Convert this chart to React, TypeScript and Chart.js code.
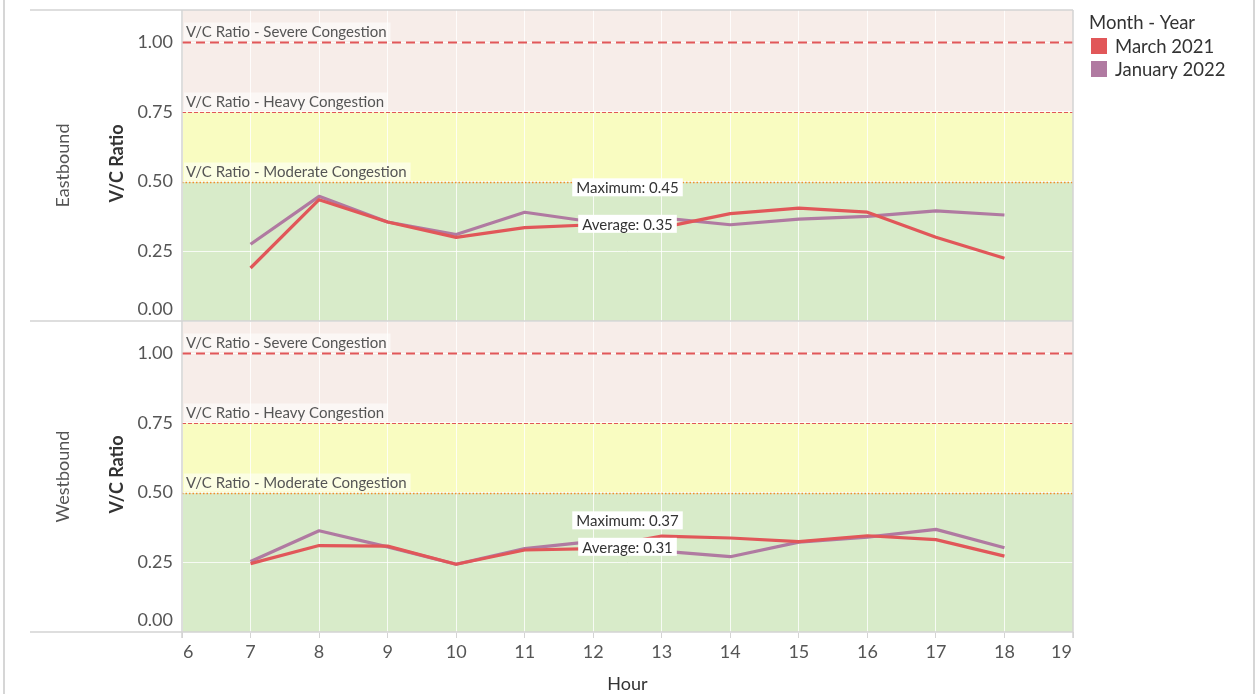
import React, { useEffect, useRef } from 'react';
import { Chart, registerables } from 'chart.js';

Chart.register(...registerables);

// ---------- data ----------
const hours = [7, 8, 9, 10, 11, 12, 13, 14, 15, 16, 17, 18];
const seriesNames = ['March 2021', 'January 2022'];
const seriesColors = ['#e15759', '#b07aa1'];
const directions = ['Eastbound', 'Westbound'];

const eastMarch2021 = [0.19, 0.435, 0.355, 0.3, 0.335, 0.345, 0.335, 0.385, 0.405, 0.39, 0.3, 0.225];
const eastJanuary2022 = [0.275, 0.447, 0.355, 0.31, 0.39, 0.355, 0.37, 0.345, 0.365, 0.375, 0.395, 0.38];
const westMarch2021 = [0.245, 0.31, 0.308, 0.243, 0.294, 0.299, 0.344, 0.337, 0.324, 0.345, 0.331, 0.272];
const westJanuary2022 = [0.253, 0.363, 0.305, 0.243, 0.299, 0.325, 0.29, 0.27, 0.322, 0.34, 0.368, 0.302];

const yTicks = [0, 0.25, 0.5, 0.75, 1.0];
const xTicks = [6, 7, 8, 9, 10, 11, 12, 13, 14, 15, 16, 17, 18, 19];

const refValues = [1.0, 0.75, 0.5];
const refNames = ['V/C Ratio - Severe Congestion', 'V/C Ratio - Heavy Congestion', 'V/C Ratio - Moderate Congestion'];
const bandEdges = [0, 0.5, 0.75];
const bandColors = ['#d8ebc9', '#f9fcc1', '#f7ede9'];

const FONT = 'Lato, "Open Sans", sans-serif';

const decorPlugin = {
  id: 'decor',
  beforeDraw(chart: any) {
    const ctx = chart.ctx;
    const { left, right } = chart.chartArea;
    ctx.save();
    ctx.fillStyle = '#ffffff';
    ctx.fillRect(0, 0, chart.width, chart.height);
    ['yE', 'yW'].forEach((id) => {
      const s = chart.scales[id];
      for (let i = 0; i < bandEdges.length; i++) {
        const lo = bandEdges[i];
        const hi = i + 1 < bandEdges.length ? bandEdges[i + 1] : s.max;
        const yTop = s.getPixelForValue(hi);
        const yBot = s.getPixelForValue(lo);
        ctx.fillStyle = bandColors[i];
        ctx.fillRect(left, yTop, right - left, yBot - yTop);
      }
    });
    ctx.restore();
  },
  beforeDatasetsDraw(chart: any) {
    const ctx = chart.ctx;
    const { left, right } = chart.chartArea;
    ctx.save();
    ['yE', 'yW'].forEach((id) => {
      const s = chart.scales[id];
      refValues.forEach((v, i) => {
        const y = Math.round(s.getPixelForValue(v)) + 0.5;
        ctx.beginPath();
        if (i === 0) {
          ctx.strokeStyle = '#e15759';
          ctx.lineWidth = 2;
          ctx.setLineDash([9, 5]);
        } else if (i === 1) {
          ctx.strokeStyle = '#e15759';
          ctx.lineWidth = 1;
          ctx.setLineDash([4, 2]);
        } else {
          ctx.strokeStyle = '#f28e2b';
          ctx.lineWidth = 1.5;
          ctx.setLineDash([1.5, 2]);
        }
        ctx.moveTo(left, y);
        ctx.lineTo(right, y);
        ctx.stroke();
        ctx.setLineDash([]);
        ctx.font = `15px ${FONT}`;
        const w = ctx.measureText(refNames[i]).width;
        const bh = 18;
        const by = y - 2 - bh;
        ctx.fillStyle = 'rgba(255,255,255,0.55)';
        ctx.fillRect(left + 2, by, w + 6, bh);
        ctx.fillStyle = '#555555';
        ctx.textBaseline = 'middle';
        ctx.textAlign = 'left';
        ctx.fillText(refNames[i], left + 4, by + bh / 2 + 1);
      });
    });
    ctx.restore();
  },
  afterDatasetsDraw(chart: any) {
    const ctx = chart.ctx;
    const { left, right, top, bottom } = chart.chartArea;
    const xs = chart.scales.x;
    ctx.save();

    // reference labels: maximum and average
    const panels = [
      { id: 'yE', vals: [...eastMarch2021, ...eastJanuary2022] },
      { id: 'yW', vals: [...westMarch2021, ...westJanuary2022] },
    ];
    const cx = xs.getPixelForValue((xs.min + xs.max) / 2);
    panels.forEach((p) => {
      const s = chart.scales[p.id];
      const mx = Math.max(...p.vals);
      const avg = p.vals.reduce((a, b) => a + b, 0) / p.vals.length;
      ctx.font = `15px ${FONT}`;
      ctx.textAlign = 'center';
      ctx.textBaseline = 'middle';
      const t1 = `Maximum: ${mx.toFixed(2)}`;
      const w1 = ctx.measureText(t1).width + 8;
      const y1 = s.getPixelForValue(mx);
      ctx.fillStyle = '#ffffff';
      ctx.fillRect(cx - w1 / 2, y1 - 18, w1, 18);
      ctx.fillStyle = '#333333';
      ctx.fillText(t1, cx, y1 - 9 + 1);
      const t2 = `Average: ${avg.toFixed(2)}`;
      const w2 = ctx.measureText(t2).width + 8;
      const y2 = s.getPixelForValue(avg);
      ctx.fillStyle = '#ffffff';
      ctx.fillRect(cx - w2 / 2, y2 - 9, w2, 18);
      ctx.fillStyle = '#333333';
      ctx.fillText(t2, cx, y2 + 1);
    });

    // frame lines
    ctx.strokeStyle = '#d6d6d6';
    ctx.lineWidth = 2;
    ctx.beginPath();
    ctx.moveTo(4, 0); ctx.lineTo(4, chart.height);
    ctx.moveTo(1254, 0); ctx.lineTo(1254, chart.height);
    ctx.stroke();
    const yE = chart.scales.yE;
    const yW = chart.scales.yW;
    ctx.lineWidth = 1.5;
    ctx.strokeStyle = '#d4d4d4';
    ctx.beginPath();
    [top, yE.bottom, bottom].forEach((y) => {
      ctx.moveTo(30, y);
      ctx.lineTo(right, y);
    });
    ctx.moveTo(left, top); ctx.lineTo(left, bottom + 6);
    ctx.moveTo(right, top); ctx.lineTo(right, bottom + 6);
    ctx.stroke();

    // y tick labels (kept inside their pane)
    ctx.font = `18px ${FONT}`;
    ctx.fillStyle = '#555555';
    ctx.textAlign = 'right';
    ctx.textBaseline = 'middle';
    [yE, yW].forEach((s) => {
      yTicks.forEach((v) => {
        let y = s.getPixelForValue(v);
        y = Math.min(Math.max(y, s.top + 10), s.bottom - 12);
        ctx.fillText(v.toFixed(2), left - 9, y);
      });
    });

    // x tick labels (kept inside the plot width)
    ctx.textAlign = 'center';
    xTicks.forEach((v) => {
      const label = String(v);
      const hw = ctx.measureText(label).width / 2;
      let x = xs.getPixelForValue(v);
      x = Math.min(Math.max(x, left + hw + 1), right - hw - 1);
      ctx.fillText(label, x, bottom + 20);
    });

    // axis titles
    ctx.fillStyle = '#333333';
    ctx.font = `18px ${FONT}`;
    ctx.fillText('Hour', (left + right) / 2, 684);

    [yE, yW].forEach((s, i) => {
      const cy = (s.top + s.bottom) / 2;
      ctx.save();
      ctx.translate(63, cy);
      ctx.rotate(-Math.PI / 2);
      ctx.font = `18px ${FONT}`;
      ctx.fillStyle = '#555555';
      ctx.fillText(directions[i], 0, 0);
      ctx.restore();
      ctx.save();
      ctx.translate(117, cy - 2);
      ctx.rotate(-Math.PI / 2);
      ctx.font = `bold 18px ${FONT}`;
      ctx.fillStyle = '#333333';
      ctx.fillText('V/C Ratio', 0, 0);
      ctx.restore();
    });

    // legend
    ctx.textAlign = 'left';
    ctx.font = `18.5px ${FONT}`;
    ctx.fillStyle = '#333333';
    ctx.fillText('Month - Year', 1089, 23);
    seriesNames.forEach((n, i) => {
      const y = 46 + i * 23;
      ctx.fillStyle = seriesColors[i];
      ctx.fillRect(1091, y - 8, 16, 16);
      ctx.fillStyle = '#333333';
      ctx.fillText(n, 1115, y + 1);
    });

    ctx.restore();
  },
};

function makeDataset(label: string, values: number[], color: string, axis: string) {
  return {
    label,
    data: hours.map((h, i) => ({ x: h, y: values[i] })),
    yAxisID: axis,
    borderColor: color,
    backgroundColor: color,
    borderWidth: 3.2,
    pointRadius: 0,
    pointHoverRadius: 0,
    tension: 0,
    borderJoinStyle: 'round',
    fill: false,
  };
}

export default function App() {
  const ref = useRef<HTMLCanvasElement | null>(null);
  useEffect(() => {
    if (!ref.current) return;
    const yCommon = (weight: number) => ({
      type: 'linear',
      position: 'left',
      stack: 'dir',
      stackWeight: 1,
      weight,
      min: 0,
      max: 1.115,
      afterBuildTicks: (s: any) => {
        s.ticks = yTicks.map((v) => ({ value: v }));
      },
      ticks: { display: false },
      grid: { color: 'rgba(255,255,255,0.8)', drawTicks: false, lineWidth: 1 },
      border: { display: false },
      afterFit: (s: any) => {
        s.width = 152;
      },
    });
    const chart = new Chart(ref.current, {
      type: 'line',
      data: {
        datasets: [
          makeDataset(seriesNames[0], eastMarch2021, seriesColors[0], 'yE'),
          makeDataset(seriesNames[0], westMarch2021, seriesColors[0], 'yW'),
          makeDataset(seriesNames[1], eastJanuary2022, seriesColors[1], 'yE'),
          makeDataset(seriesNames[1], westJanuary2022, seriesColors[1], 'yW'),
        ] as any,
      },
      options: {
        responsive: false,
        animation: false,
        devicePixelRatio: 1,
        events: [],
        layout: { padding: { left: 30, right: 185, top: 10, bottom: 0 } },
        plugins: { legend: { display: false }, tooltip: { enabled: false }, title: { display: false } },
        scales: {
          x: {
            type: 'linear',
            min: 6,
            max: 19,
            afterBuildTicks: (s: any) => {
              s.ticks = xTicks.map((v) => ({ value: v }));
            },
            ticks: { display: false },
            grid: { color: 'rgba(255,255,255,0.8)', tickColor: '#d4d4d4', tickLength: 6, drawTicks: true },
            border: { display: false },
            afterFit: (s: any) => {
              s.height = 62;
            },
          },
          yE: yCommon(2),
          yW: yCommon(1),
        } as any,
      },
      plugins: [decorPlugin],
    });
    return () => chart.destroy();
  }, []);
  return (
    <div style={{ position: 'absolute', left: 0, top: 0, width: 1258, height: 694, background: '#fff' }}>
      <canvas ref={ref} width={1258} height={694} style={{ display: 'block' }} />
    </div>
  );
}
